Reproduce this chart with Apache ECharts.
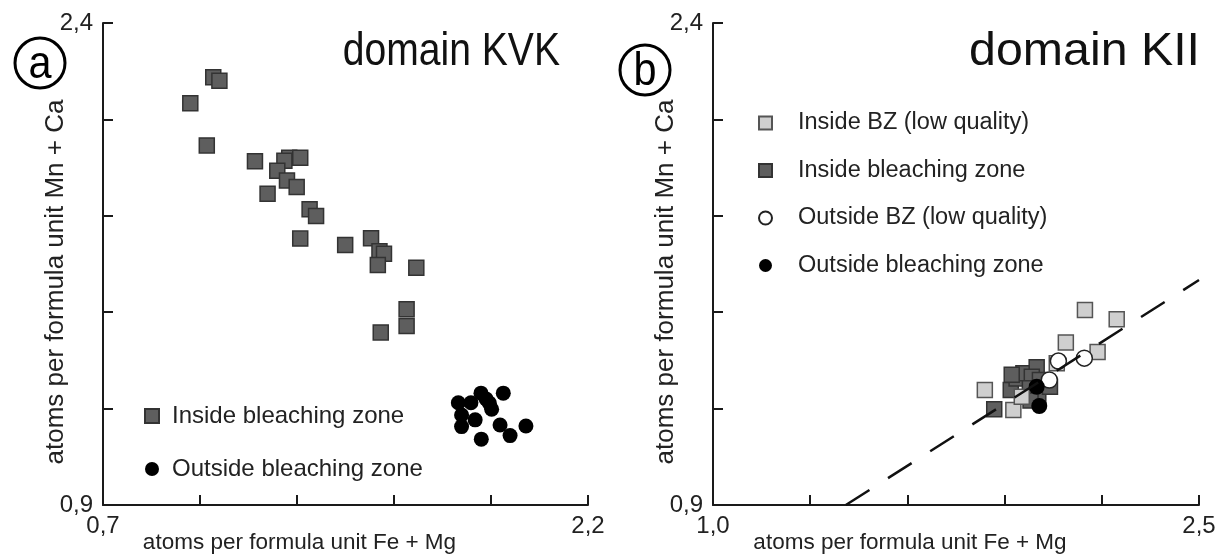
<!DOCTYPE html>
<html><head><meta charset="utf-8">
<script src="https://cdn.jsdelivr.net/npm/echarts@6/dist/echarts.min.js"></script>
<style>html,body{margin:0;padding:0;background:#fff}#c{width:1217px;height:554px}</style>
</head><body><div id="c"></div><script>
// ---- data (Fe+Mg, Mn+Ca) ----
const kvkInside = [[1.041,2.231],[1.060,2.220],[0.970,2.150],[1.021,2.019],[1.170,1.970],[1.276,1.981],[1.310,1.981],[1.261,1.971],[1.239,1.940],[1.269,1.910],[1.299,1.890],[1.209,1.869],[1.339,1.820],[1.359,1.799],[1.310,1.729],[1.449,1.709],[1.529,1.730],[1.555,1.690],[1.569,1.682],[1.550,1.647],[1.669,1.638],[1.639,1.509],[1.639,1.457],[1.559,1.437]];
const kvkOutside = [[1.799,1.218],[1.838,1.218],[1.869,1.248],[1.938,1.248],[1.895,1.217],[1.902,1.198],[1.885,1.230],[1.809,1.180],[1.809,1.144],[1.851,1.165],[1.928,1.149],[2.008,1.146],[1.959,1.116],[1.870,1.105]];
const kiiInside = [[1.868,1.198],[1.919,1.258],[1.937,1.294],[1.958,1.310],[1.999,1.329],[1.984,1.299],[2.009,1.289],[2.004,1.242],[1.978,1.263],[2.040,1.268],[1.922,1.305],[1.980,1.225]];
const kiiInsideLow = [[2.148,1.507],[2.246,1.478],[2.089,1.406],[2.187,1.376],[1.839,1.258],[1.927,1.196],[1.953,1.237],[2.061,1.341]];
const kiiOutsideLow = [[2.066,1.348],[2.146,1.357],[2.038,1.289]];
const kiiOutside = [[1.999,1.268],[2.007,1.208]];
const kiiTrend = [[1.41,0.9],[2.5,1.6]];
const xTicksA = [0.7,1.0,1.3,1.6,1.9,2.2];
const xTicksB = [1.0,1.3,1.6,1.9,2.2,2.5];
const yTicks = [0.9,1.2,1.5,1.8,2.1,2.4];
const xTitle = 'atoms per formula unit Fe + Mg';
const yTitle = 'atoms per formula unit Mn + Ca';

const FF = "'Liberation Sans', Arial, sans-serif";
const fmt = v => (+v).toFixed(1).replace('.', ',');

function xAx(idx, ticks) {
  return {
    type:'value', gridIndex: idx, min: ticks[0], max: ticks[ticks.length-1],
    axisLine:{show:true, lineStyle:{color:'#1a1a1a', width:2}},
    axisTick:{show:true, inside:true, length:10, customValues: ticks, lineStyle:{color:'#1a1a1a', width:2}},
    axisLabel:{customValues:[ticks[0], ticks[ticks.length-1]], formatter: fmt, fontFamily:FF, fontSize:24, color:'#222', margin:9,
      alignMinLabel:'center', alignMaxLabel:'center'},
    splitLine:{show:false},
    name: xTitle, nameLocation:'middle', nameGap:26, nameMoveOverlap:false,
    nameTextStyle:{fontFamily:FF, fontSize:22.5, color:'#222', padding:[0,92,0,0]}
  };
}
function yAx(idx) {
  return {
    type:'value', gridIndex: idx, min: yTicks[0], max: yTicks[yTicks.length-1],
    axisLine:{show:true, lineStyle:{color:'#1a1a1a', width:2}},
    axisTick:{show:true, inside:true, length:10, customValues: yTicks, lineStyle:{color:'#1a1a1a', width:2}},
    axisLabel:{customValues:[yTicks[0], yTicks[yTicks.length-1]], formatter: fmt, fontFamily:FF, fontSize:24, color:'#222', margin:10,
      verticalAlignMinLabel:'middle', verticalAlignMaxLabel:'middle'},
    splitLine:{show:false},
    name: yTitle, nameLocation:'middle', nameGap:34, nameMoveOverlap:false,
    nameTextStyle:{fontFamily:FF, fontSize:26, color:'#222', padding:[0,36,0,0]}
  };
}

const chart = echarts.init(document.getElementById('c'), null, {renderer:'canvas'});
chart.setOption({
  animation:false,
  backgroundColor:'#fff',
  grid:[
    {left:103, top:23, width:485, height:482, containLabel:false, outerBoundsMode:'none'},
    {left:713, top:23, width:486, height:482, containLabel:false, outerBoundsMode:'none'}
  ],
  xAxis:[xAx(0, xTicksA), xAx(1, xTicksB)],
  yAxis:[yAx(0), yAx(1)],
  legend:[
    {data:['Inside bleaching zone','Outside bleaching zone'], orient:'vertical', left:139, top:399,
     itemWidth:14, itemHeight:14, itemGap:29, selectedMode:false,
     textStyle:{fontFamily:FF, fontSize:24, color:'#222', lineHeight:24, padding:[0,0,0,8]}},
    {data:['Inside BZ (low quality)','Inside bleaching zone','Outside BZ (low quality)','Outside bleaching zone'],
     orient:'vertical', left:753, top:106,
     itemWidth:13, itemHeight:13, itemGap:23.5, selectedMode:false,
     textStyle:{fontFamily:FF, fontSize:23.5, color:'#222', lineHeight:24, padding:[0,0,0,21]}}
  ],
  series:[
    {name:'Inside bleaching zone', type:'scatter', xAxisIndex:0, yAxisIndex:0, data:kvkInside,
     symbol:'rect', symbolSize:15, itemStyle:{color:'#5e5e5e', borderColor:'#333', borderWidth:1.5, opacity:1}},
    {name:'Outside bleaching zone', type:'scatter', xAxisIndex:0, yAxisIndex:0, data:kvkOutside,
     symbol:'circle', symbolSize:15, itemStyle:{color:'#000', borderColor:'#000', borderWidth:0, opacity:1}},
    {name:'Inside bleaching zone', type:'scatter', xAxisIndex:1, yAxisIndex:1, data:kiiInside,
     symbol:'rect', symbolSize:15, itemStyle:{color:'#5e5e5e', borderColor:'#333', borderWidth:1.5, opacity:1}},
    {name:'Inside BZ (low quality)', type:'scatter', xAxisIndex:1, yAxisIndex:1, data:kiiInsideLow,
     symbol:'rect', symbolSize:15, itemStyle:{color:'#cfcfcf', borderColor:'#555', borderWidth:1.5, opacity:1}},
    {name:'Outside BZ (low quality)', type:'scatter', xAxisIndex:1, yAxisIndex:1, data:kiiOutsideLow,
     symbol:'circle', symbolSize:16, itemStyle:{color:'#fff', borderColor:'#222', borderWidth:1.5, opacity:1}},
    {name:'Outside bleaching zone', type:'scatter', xAxisIndex:1, yAxisIndex:1, data:kiiOutside,
     symbol:'circle', symbolSize:16, itemStyle:{color:'#000', borderColor:'#000', borderWidth:0, opacity:1}},
    {name:'trend', type:'line', xAxisIndex:1, yAxisIndex:1, data:kiiTrend, symbol:'none', z:5,
     lineStyle:{color:'#111', width:2.5, type:[28,22]}}
  ],
  graphic:[
    {type:'circle', shape:{cx:40, cy:63, r:25}, style:{fill:'#fff', stroke:'#000', lineWidth:3}},
    {type:'text', x:40, y:65, scaleX:0.9, style:{text:'a', font:"46px 'Liberation Sans', Arial, sans-serif", fill:'#000', align:'center', verticalAlign:'middle'}},
    {type:'circle', shape:{cx:645, cy:70, r:25}, style:{fill:'#fff', stroke:'#000', lineWidth:3}},
    {type:'text', x:645, y:72, scaleX:0.9, style:{text:'b', font:"46px 'Liberation Sans', Arial, sans-serif", fill:'#000', align:'center', verticalAlign:'middle'}},
    {type:'text', x:560, y:52, scaleX:0.85, style:{text:'domain KVK', font:"46px 'Liberation Sans', Arial, sans-serif", fill:'#111', align:'right', verticalAlign:'middle'}},
    {type:'text', x:1200, y:52, scaleX:1.05, style:{text:'domain KII', font:"46px 'Liberation Sans', Arial, sans-serif", fill:'#111', align:'right', verticalAlign:'middle'}}
  ]
});
</script></body></html>
